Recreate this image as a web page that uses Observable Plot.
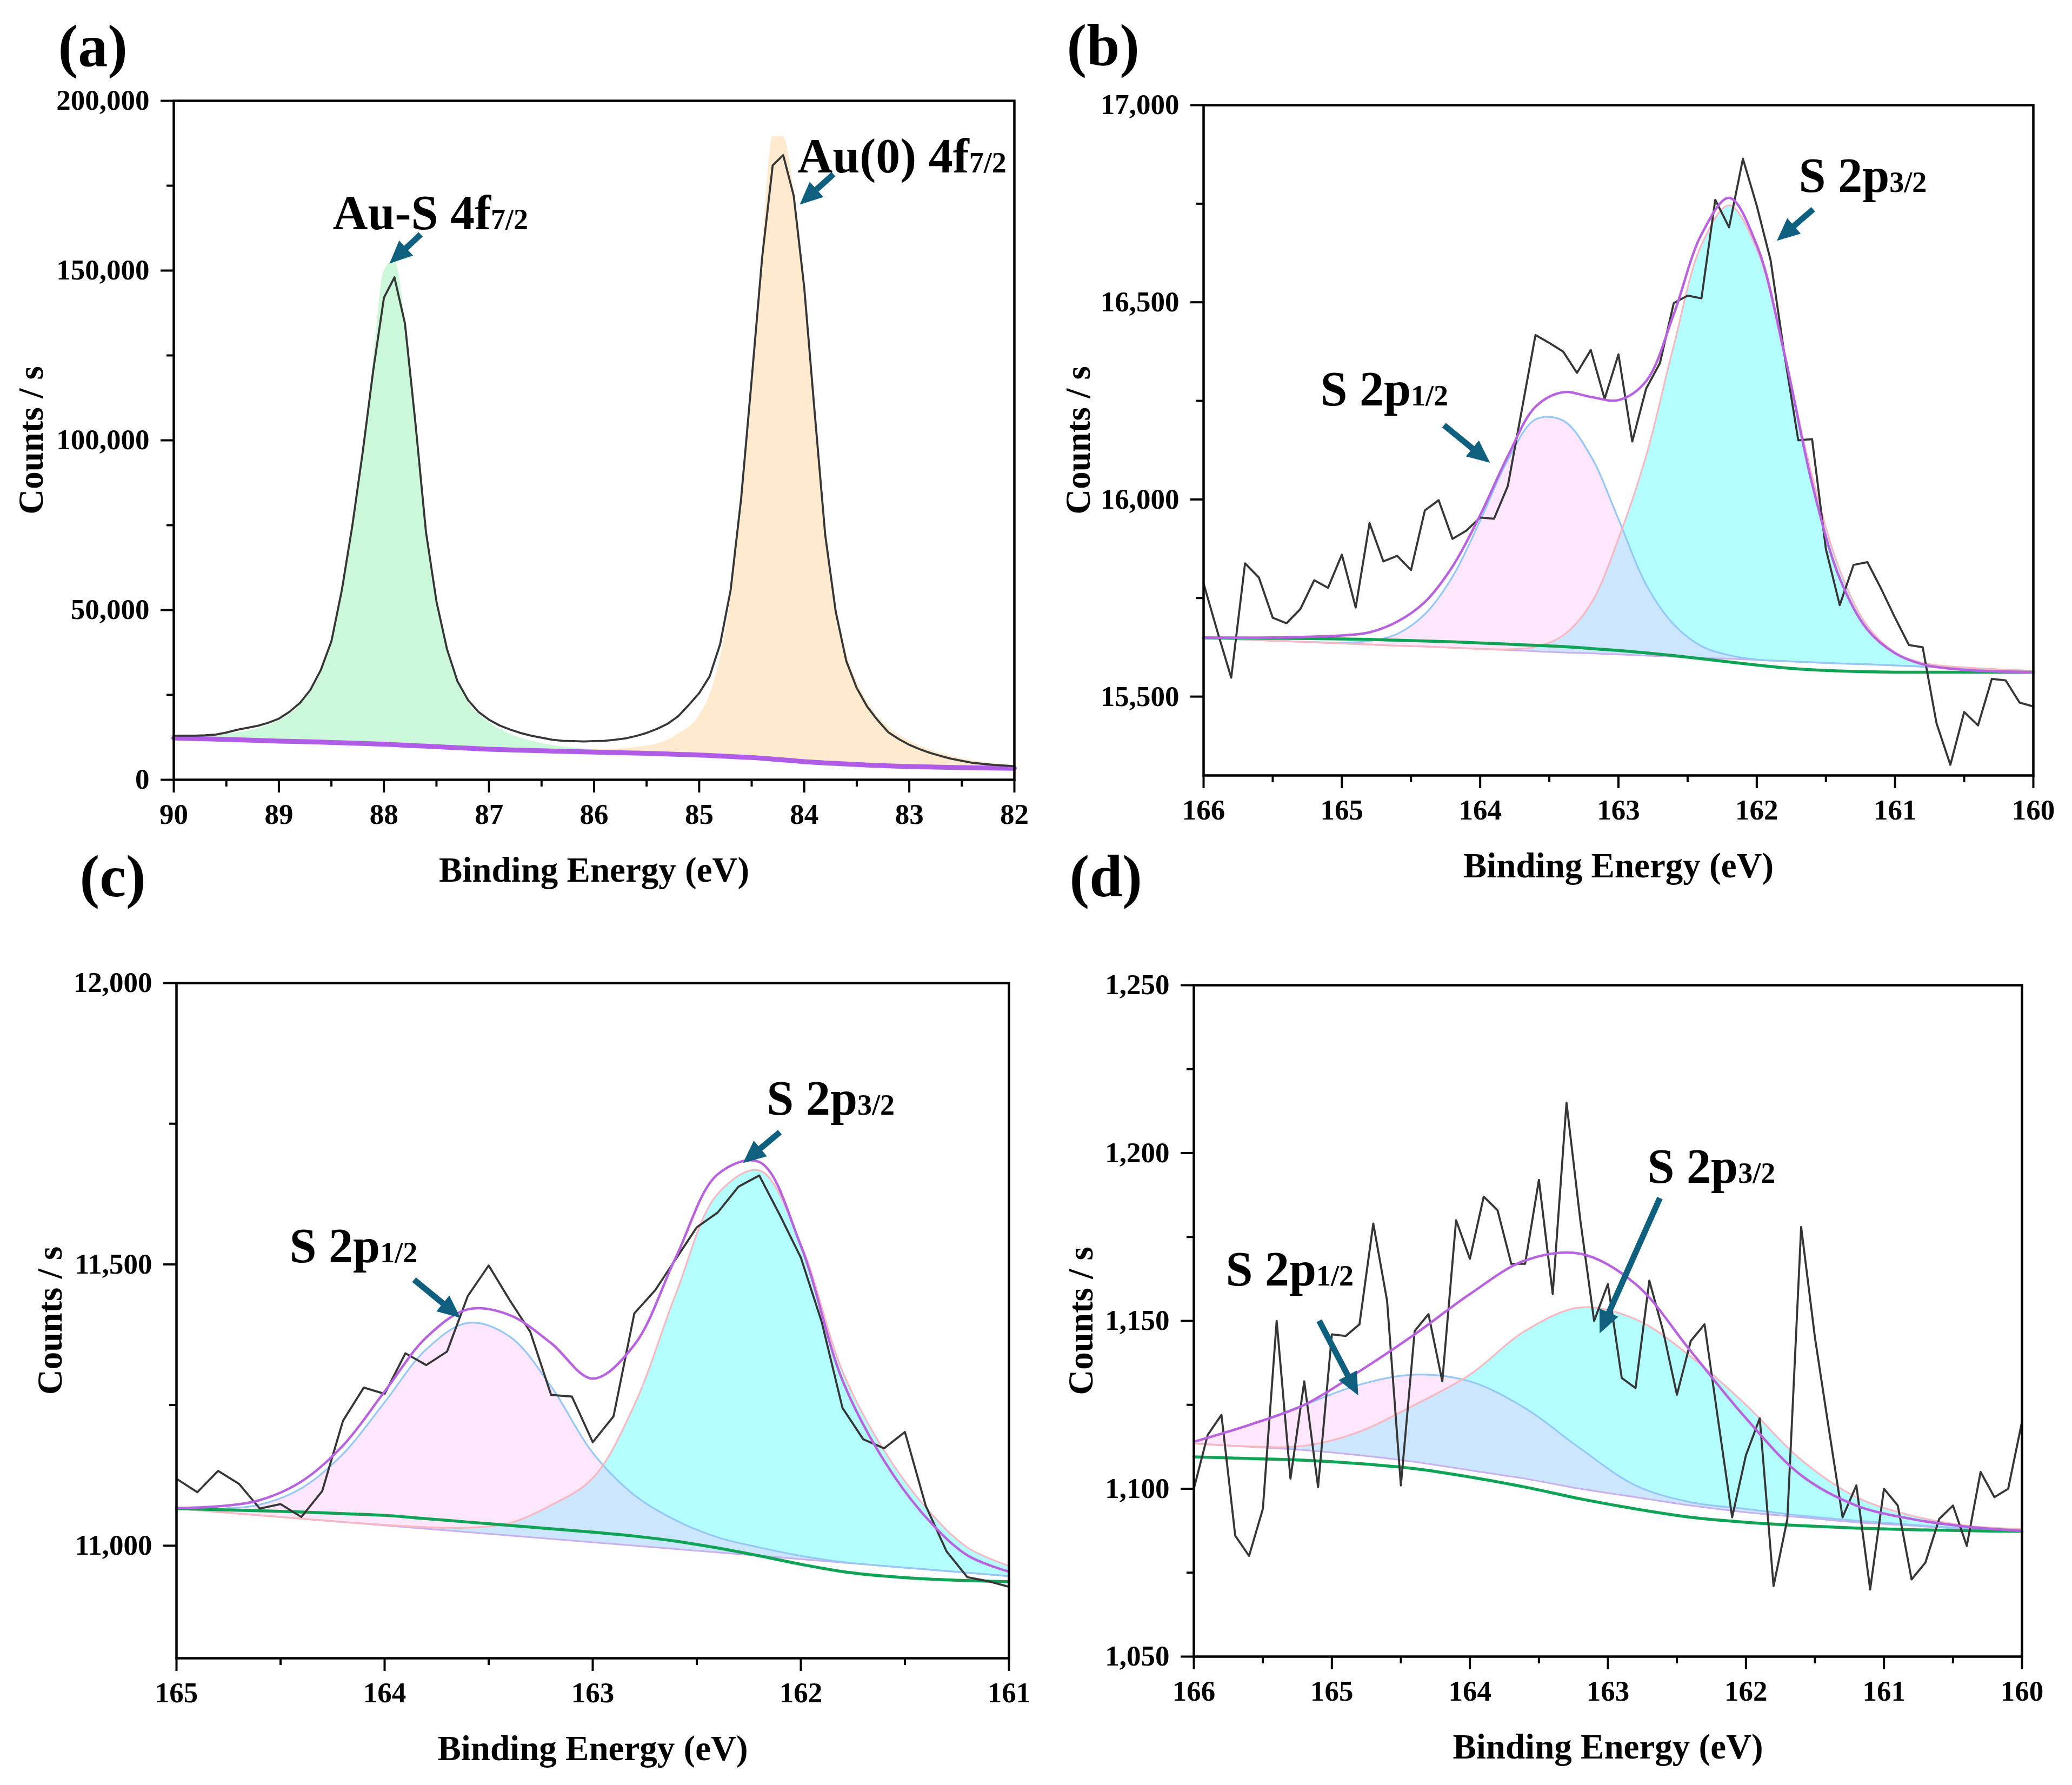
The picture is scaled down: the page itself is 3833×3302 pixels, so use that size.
<!DOCTYPE html>
<html><head><meta charset="utf-8">
<script src="https://cdn.jsdelivr.net/npm/d3@7"></script>
<script src="https://cdn.jsdelivr.net/npm/@observablehq/plot@0.6"></script>
<style>
html,body{margin:0;padding:0;background:#fff;}
#fig{position:relative;width:3833px;height:3302px;background:#fff;overflow:hidden;}
.panel{position:absolute;}
.panel svg{overflow:visible;}
</style></head><body><div id="fig"></div>
<script>
// ---------------- DATA ----------------
// Panel (a): Au 4f region
const eA = [90,89.9,89.8,89.7,89.6,89.5,89.4,89.3,89.2,89.1,89,88.9,88.8,88.7,88.6,88.5,88.4,88.3,88.2,88.1,88,87.9,87.8,87.7,87.6,87.5,87.4,87.3,87.2,87.1,87,86.9,86.8,86.7,86.6,86.5,86.4,86.3,86.2,86.1,86,85.9,85.8,85.7,85.6,85.5,85.4,85.3,85.2,85.1,85,84.9,84.8,84.7,84.6,84.5,84.4,84.3,84.2,84.1,84,83.9,83.8,83.7,83.6,83.5,83.4,83.3,83.2,83.1,83,82.9,82.8,82.7,82.6,82.5,82.4,82.3,82.2,82.1,82];
const rawA = [13000,13000,13000,13100,13300,13900,14700,15300,15900,16800,18000,20000,22600,26500,32400,40800,56000,75000,97000,121000,142000,148000,134400,105000,73000,52500,38500,29000,23500,20000,17700,16000,14800,13800,13000,12400,11800,11500,11400,11300,11400,11500,11800,12200,12900,13800,15000,16500,18700,22000,25500,30500,40000,56000,83000,118000,154000,181000,184000,172000,145000,108000,72000,49500,35000,27000,21500,17500,14000,12000,10300,9000,7900,7000,6200,5600,5000,4700,4400,4200,4000];
const fitEA = [90,89.5,89,88.8,88.6,88.5,88.4,88.3,88.2,88.1,88,87.9,87.8,87.7,87.6,87.5,87.4,87.3,87.2,87,86.8,86.5,86,85.5,85.2,85,84.9,84.8,84.7,84.6,84.5,84.4,84.3,84.2,84.1,84,83.9,83.8,83.7,83.6,83.5,83.4,83.2,83,82.5,82];
const bgA = [12300,11900,11400,11250,11100,11000,10900,10800,10700,10600,10500,10350,10200,10050,9900,9750,9600,9450,9300,9000,8800,8550,8150,7800,7500,7300,7150,7000,6850,6700,6550,6350,6100,5850,5600,5350,5150,4950,4800,4650,4500,4350,4100,3900,3600,3400];
const auSA = [12500,13500,17500,22000,31500,40000,55500,75000,97500,124000,150000,153000,135500,106000,74000,53000,38500,29000,23000,17000,13500,10800,8900,8000,7600,7350,7150,7000,6850,6700,6550,6350,6100,5850,5600,5350,5150,4950,4800,4650,4500,4350,4100,3900,3600,3400];
const au0A = [12300,11900,11400,11250,11100,11000,10900,10800,10700,10600,10500,10350,10200,10050,9900,9750,9600,9450,9350,9100,9000,8900,8900,10000,13500,19000,25000,36000,54000,82000,118000,156000,189500,189500,174000,147000,110000,75000,52000,37500,29000,23000,15500,11500,6300,4300];

// Shared energy axis for panels (b) and (d)
const eB = [166,165.9,165.8,165.7,165.6,165.5,165.4,165.3,165.2,165.1,165,164.9,164.8,164.7,164.6,164.5,164.4,164.3,164.2,164.1,164,163.9,163.8,163.7,163.6,163.5,163.4,163.3,163.2,163.1,163,162.9,162.8,162.7,162.6,162.5,162.4,162.3,162.2,162.1,162,161.9,161.8,161.7,161.6,161.5,161.4,161.3,161.2,161.1,161,160.9,160.8,160.7,160.6,160.5,160.4,160.3,160.2,160.1,160];
// Panel (b)
const rawB = [15787,15665,15548,15838,15802,15700,15686,15722,15795,15776,15860,15726,15940,15843,15857,15821,15972,15998,15900,15921,15954,15951,16034,16225,16417,16397,16375,16321,16379,16255,16368,16147,16281,16346,16498,16517,16510,16760,16690,16864,16745,16607,16368,16150,16153,15874,15732,15834,15841,15773,15700,15631,15625,15432,15327,15461,15427,15545,15541,15485,15475];
const fitEB = [166,165.5,165,164.8,164.6,164.4,164.2,164,163.8,163.6,163.4,163.2,163,162.8,162.6,162.4,162.2,162,161.8,161.6,161.4,161.2,161,160.8,160.5,160];
const baseB = [15649,15642,15635,15632,15629,15627,15624,15621,15618,15615,15612,15610,15607,15604,15601,15598,15596,15593,15590,15587,15584,15582,15579,15576,15572,15565];
const shirleyB = [15649,15648,15646,15645,15643,15641,15639,15636,15633,15630,15627,15622,15617,15611,15604,15596,15588,15580,15573,15568,15565,15563,15562,15562,15562,15562];
const p12B = [15649,15642,15637,15641,15659,15709,15804,15946,16100,16203,16200,16110,15950,15784,15683,15628,15605,15594,15590,15587,15584,15582,15579,15576,15572,15565];
const p32B = [15649,15642,15635,15632,15629,15627,15624,15621,15620,15626,15655,15735,15900,16110,16390,16645,16746,16635,16365,16060,15821,15679,15612,15585,15574,15565];
const envB = [15649,15650,15655,15663,15690,15740,15830,15960,16110,16235,16272,16260,16252,16300,16470,16672,16765,16645,16370,16040,15800,15670,15610,15582,15568,15562];

// Panel (c)
const eC = [165,164.9,164.8,164.7,164.6,164.5,164.4,164.3,164.2,164.1,164,163.9,163.8,163.7,163.6,163.5,163.4,163.3,163.2,163.1,163,162.9,162.8,162.7,162.6,162.5,162.4,162.3,162.2,162.1,162,161.9,161.8,161.7,161.6,161.5,161.4,161.3,161.2,161.1,161];
const rawC = [11119,11095,11133,11110,11066,11074,11051,11097,11222,11281,11270,11342,11321,11345,11444,11498,11437,11380,11268,11265,11184,11230,11413,11454,11510,11566,11592,11638,11658,11587,11512,11398,11245,11189,11173,11202,11071,10990,10944,10937,10927];
const fitEC = [165,164.8,164.6,164.4,164.2,164,163.8,163.6,163.4,163.2,163,162.8,162.6,162.4,162.2,162,161.8,161.6,161.4,161.2,161];
const baseC = [11066,11060,11054,11048,11042,11036,11030,11024,11018,11012,11006,11000,10994,10988,10982,10976,10970,10964,10958,10952,10946];
const shirleyC = [11066,11064,11062,11060,11057,11054,11048,11042,11036,11030,11024,11017,11008,10996,10982,10967,10954,10946,10941,10938,10936];
const p12C = [11067,11066,11073,11102,11163,11255,11349,11396,11372,11283,11165,11090,11045,11015,10997,10982,10971,10964,10958,10952,10946];
const p32C = [11066,11060,11054,11048,11042,11037,11033,11032,11040,11072,11120,11250,11448,11625,11667,11536,11310,11169,11068,10997,10964];
const envC = [11067,11070,11081,11114,11178,11274,11370,11420,11410,11360,11297,11357,11513,11660,11682,11533,11294,11151,11051,10983,10954];

// Panel (d)
const rawD = [1100,1116,1122,1086,1080,1094,1150,1103,1132,1100.5,1146,1145.5,1149,1179,1156,1101,1147,1152,1132,1180,1168.5,1187,1183,1167,1167,1192,1158,1215,1180,1150,1161,1133,1130,1162,1147,1128,1144,1149,1120,1091.5,1110,1121,1071,1091,1178,1145,1118,1091.5,1101,1070,1100,1095,1073,1078,1091,1095,1083,1105,1097.5,1100,1120];
const fitED = [166,165.6,165.2,164.8,164.4,164,163.6,163.2,162.8,162.4,162,161.6,161.2,160.8,160.4,160];
const baseD = [1113.5,1112.5,1111.5,1110,1108,1105.5,1103,1100,1097.5,1095,1093,1091.5,1090,1089,1088,1087.5];
const shirleyD = [1109.5,1109,1108.5,1107.5,1106,1103.5,1100.5,1097,1094,1091.5,1090,1089,1088.3,1087.8,1087.5,1087.3];
const p12D = [1114,1119,1125,1131,1134,1132,1124,1112,1101,1096,1094,1092,1090.5,1089.3,1088.2,1087.6];
const p32D = [1113.5,1112.6,1112.8,1117,1125,1134,1147,1154,1150.5,1139.4,1125,1108.6,1097.5,1092,1089,1088];
const envD = [1114,1119,1125,1135,1146,1158,1168,1170,1161,1141,1121,1104,1095,1091,1088.7,1087.5];

// Tick values
const xTicksA = [90,89,88,87,86,85,84,83,82];
const xMinorA = [89.5,88.5,87.5,86.5,85.5,84.5,83.5,82.5];
const yTicksA = [0,50000,100000,150000,200000];
const yMinorA = [25000,75000,125000,175000];
const xTicksB = [166,165,164,163,162,161,160];
const xMinorB = [165.5,164.5,163.5,162.5,161.5,160.5];
const yTicksB = [15500,16000,16500,17000];
const yMinorB = [15750,16250,16750];
const xTicksC = [165,164,163,162,161];
const xMinorC = [164.5,163.5,162.5,161.5];
const yTicksC = [11000,11500,12000];
const yMinorC = [11250,11750];
const yTicksD = [1050,1100,1150,1200,1250];
const yMinorD = [1075,1125,1175,1225];

// Peak labels (data units) and arrows (tip in data units)
const labelsA = {x:[88.488,84.064], y:[162260,178980], main:["Au-S 4f","Au(0) 4f"], sub:["7/2","7/2"]};
const arrowsA = {x:[87.947,84.043], y:[152070,169430], len:[79,84], angle:[227,228]};
const labelsB = {x:[165.156,161.696], y:[16238,16780], main:["S 2p","S 2p"], sub:["1/2","3/2"]};
const arrowsB = {x:[163.929,161.855], y:[16093,16656], len:[110,89], angle:[129.3,229.1]};
const labelsC = {x:[164.457,162.164], y:[11504,11766], main:["S 2p","S 2p"], sub:["1/2","3/2"]};
const arrowsC = {x:[163.636,162.278], y:[11405,11680], len:[111,89], angle:[129.5,230]};
const labelsD = {x:[165.769,162.714], y:[1160.6,1191.2], main:["S 2p","S 2p"], sub:["1/2","3/2"]};
const arrowsD = {x:[164.809,163.06], y:[1127.8,1146.3], len:[156,274], angle:[152.4,204]};

// ---------------- STYLE ----------------
const FONT = "Liberation Serif, Times New Roman, Times, serif";
const COL = {
  raw: "#363636", env: "#b862e0", shirley: "#0fa356", base: "#c9aef0",
  p12Line: "#96c8f5", p32Line: "#f7b8c2", p12Fill: "#fcb6fa", cyan: "#b3ffff",
  arrow: "#0f5f7f", green: "#ccf8da", orange: "#fdeacf", bgA: "#b05ce6"
};
const CURVE_A = "monotone-x";
const CURVE = "catmull-rom";

const arrowShape = {
  draw(ctx, l) {
    const h = 42, hw = 19, w = 5.5, b = -(l - h);
    ctx.moveTo(-w, 0); ctx.lineTo(-w, b); ctx.lineTo(-hw, b); ctx.lineTo(0, -l);
    ctx.lineTo(hw, b); ctx.lineTo(w, b); ctx.lineTo(w, 0); ctx.closePath();
  }
};

function annotationMarks(labels, arrows) {
  const idx = labels.main.map((_, i) => i);
  const marks = [
    Plot.text(idx, {x: i => labels.x[i], y: i => labels.y[i], text: i => labels.main[i],
      textAnchor: "start", lineAnchor: "bottom", fontSize: 90, fontWeight: "bold", fontFamily: FONT})
  ];
  arrows.x.forEach((_, i) => {
    marks.push(Plot.vector([i], {x: () => arrows.x[i], y: () => arrows.y[i], length: arrows.len[i],
      rotate: arrows.angle[i], anchor: "end", shape: arrowShape, fill: COL.arrow, stroke: "none"}));
  });
  return marks;
}

function panel(cfg) {
  const f = cfg.frame;
  const svg = Plot.plot({
    width: cfg.w, height: cfg.h,
    marginLeft: f.L - cfg.left, marginTop: f.T - cfg.top,
    marginRight: cfg.left + cfg.w - f.R, marginBottom: cfg.top + cfg.h - f.B,
    x: {domain: cfg.xDomain},
    y: {domain: cfg.yDomain},
    style: {fontFamily: FONT, fontWeight: "bold", fontSize: "53px", background: "transparent", overflow: "visible", color: "#000"},
    marks: [
      ...cfg.marks,
      Plot.frame({stroke: "#000", strokeWidth: 4.5}),
      Plot.axisX({ticks: cfg.xTicks, tickSize: 24, tickPadding: 20, strokeWidth: 4, tickFormat: d => String(d), label: null, fontSize: 53, fontWeight: "bold", fontFamily: FONT}),
      Plot.axisX({ticks: cfg.xMinor, tickSize: 13, strokeWidth: 4, tickFormat: () => "", label: null}),
      Plot.axisY({ticks: cfg.yTicks, tickSize: 24, tickPadding: 21, strokeWidth: 4, tickFormat: d3.format(","), label: null, fontSize: 53, fontWeight: "bold", fontFamily: FONT}),
      Plot.axisY({ticks: cfg.yMinor, tickSize: 13, strokeWidth: 4, tickFormat: () => "", label: null}),
      Plot.text(["Binding Energy (eV)"], {text: d => d, frameAnchor: "bottom", dy: 188, textAnchor: "middle", lineAnchor: "bottom", fontSize: 65, fontWeight: "bold", fontFamily: FONT}),
      Plot.text(["Counts / s"], {text: d => d, frameAnchor: "left", dx: cfg.yTitleDx, rotate: -90, textAnchor: "middle", lineAnchor: "bottom", fontSize: 65, fontWeight: "bold", fontFamily: FONT}),
      Plot.text([cfg.tag], {text: d => d, frameAnchor: "top-left", dx: cfg.tagDx, dy: cfg.tagDy, textAnchor: "start", lineAnchor: "bottom", fontSize: 110, fontWeight: "bold", fontFamily: FONT}),
      ...annotationMarks(cfg.labels, cfg.arrows)
    ]
  });
  // subscripts appended as tspans after the main label text (document order)
  let j = 0;
  svg.querySelectorAll("text").forEach(t => {
    if (j < cfg.labels.main.length && t.textContent === cfg.labels.main[j]) {
      const ts = document.createElementNS("http://www.w3.org/2000/svg", "tspan");
      ts.setAttribute("font-size", "54");
      ts.textContent = cfg.labels.sub[j];
      t.appendChild(ts);
      j++;
    }
  });
  const div = document.createElement("div");
  div.className = "panel";
  div.style.left = cfg.left + "px"; div.style.top = cfg.top + "px";
  div.style.width = cfg.w + "px"; div.style.height = cfg.h + "px";
  div.appendChild(svg);
  document.getElementById("fig").appendChild(div);
}

function fitMarks(E, base, sh, p12, p32, env, rawE, raw) {
  const d = E.map((x, i) => ({x, base: base[i], sh: sh[i], p12: p12[i], p32: p32[i], env: env[i]}));
  const r = rawE.map((x, i) => ({x, y: raw[i]}));
  return [
    Plot.areaY(d, {x: "x", y1: "base", y2: "p32", fill: COL.cyan, curve: CURVE}),
    Plot.areaY(d, {x: "x", y1: "base", y2: "p12", fill: COL.p12Fill, fillOpacity: 0.34, curve: CURVE}),
    Plot.lineY(d, {x: "x", y: "base", stroke: COL.base, strokeWidth: 3, curve: CURVE}),
    Plot.lineY(d, {x: "x", y: "p12", stroke: COL.p12Line, strokeWidth: 3.2, curve: CURVE}),
    Plot.lineY(d, {x: "x", y: "p32", stroke: COL.p32Line, strokeWidth: 3.2, curve: CURVE}),
    Plot.lineY(d, {x: "x", y: "sh", stroke: COL.shirley, strokeWidth: 5.5, curve: CURVE}),
    Plot.lineY(r, {x: "x", y: "y", stroke: COL.raw, strokeWidth: 3.8}),
    Plot.lineY(d, {x: "x", y: "env", stroke: COL.env, strokeWidth: 4.5, curve: CURVE})
  ];
}

// ---------------- PANELS ----------------
const dA = fitEA.map((x, i) => ({x, bg: bgA[i], s: auSA[i], o: au0A[i]}));
const rA = eA.map((x, i) => ({x, y: rawA[i]}));

panel({
  left: 0, top: 0, w: 1916, h: 1700, frame: {L: 321, T: 186, R: 1876, B: 1442},
  xDomain: [90, 82], yDomain: [0, 200000],
  xTicks: xTicksA, xMinor: xMinorA, yTicks: yTicksA, yMinor: yMinorA,
  yTitleDx: -243, tag: "(a)", tagDx: -214, tagDy: -65,
  labels: labelsA, arrows: arrowsA,
  marks: [
    Plot.areaY(dA, {x: "x", y1: "bg", y2: "s", fill: COL.green, curve: CURVE_A}),
    Plot.areaY(dA, {x: "x", y1: "bg", y2: "o", fill: COL.orange, curve: CURVE_A}),
    Plot.lineY(dA, {x: "x", y: "bg", stroke: COL.bgA, strokeWidth: 9, curve: CURVE_A}),
    Plot.lineY(rA, {x: "x", y: "y", stroke: COL.raw, strokeWidth: 3.8})
  ]
});

panel({
  left: 1916, top: 0, w: 1917, h: 1700, frame: {L: 2226, T: 194, R: 3761, B: 1434},
  xDomain: [166, 160], yDomain: [15300, 17000],
  xTicks: xTicksB, xMinor: xMinorB, yTicks: yTicksB, yMinor: yMinorB,
  yTitleDx: -211, tag: "(b)", tagDx: -253, tagDy: -74,
  labels: labelsB, arrows: arrowsB,
  marks: fitMarks(fitEB, baseB, shirleyB, p12B, p32B, envB, eB, rawB)
});

panel({
  left: 0, top: 1700, w: 1916, h: 1602, frame: {L: 326, T: 1818, R: 1866, B: 3067},
  xDomain: [165, 161], yDomain: [10800, 12000],
  xTicks: xTicksC, xMinor: xMinorC, yTicks: yTicksC, yMinor: yMinorC,
  yTitleDx: -213, tag: "(c)", tagDx: -179, tagDy: -161,
  labels: labelsC, arrows: arrowsC,
  marks: fitMarks(fitEC, baseC, shirleyC, p12C, p32C, envC, eC, rawC)
});

panel({
  left: 1916, top: 1700, w: 1917, h: 1602, frame: {L: 2208, T: 1822, R: 3740, B: 3064},
  xDomain: [166, 160], yDomain: [1050, 1250],
  xTicks: xTicksB, xMinor: xMinorB, yTicks: yTicksD, yMinor: yMinorD,
  yTitleDx: -188, tag: "(d)", tagDx: -230, tagDy: -165,
  labels: labelsD, arrows: arrowsD,
  marks: fitMarks(fitED, baseD, shirleyD, p12D, p32D, envD, eB, rawD)
});
</script>
</body></html>
